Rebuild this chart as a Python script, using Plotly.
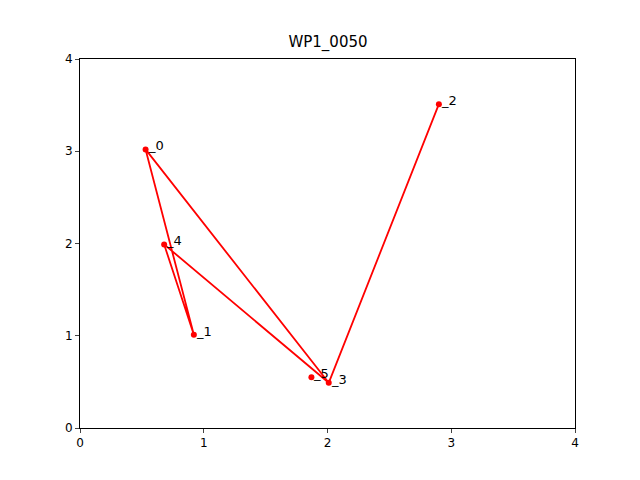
import plotly.graph_objects as go

ids = ["0", "1", "2", "3", "4", "5"]
xs = [0.53, 0.92, 2.90, 2.01, 0.68, 1.87]
ys = [3.02, 1.01, 3.51, 0.49, 1.99, 0.55]
path = [2, 3, 0, 1, 4, 3]

fig = go.Figure()
fig.add_trace(go.Scatter(x=[xs[i] for i in path], y=[ys[i] for i in path], mode="lines",
                         line=dict(color="red", width=1.8), hoverinfo="skip"))
fig.add_trace(go.Scatter(x=xs, y=ys, mode="markers", marker=dict(color="red", size=6)))
for i, lab in enumerate(ids):
    fig.add_annotation(x=xs[i], y=ys[i], text="_" + lab, showarrow=False,
                       xanchor="left", yanchor="bottom", yshift=-6,
                       font=dict(size=13, color="black", family="DejaVu Sans"))

ax = dict(range=[0, 4], tickvals=[0, 1, 2, 3, 4], showgrid=False, zeroline=False,
          showline=True, linecolor="black", mirror=True, ticks="outside", ticklen=4,
          tickfont=dict(size=12, color="black"), automargin=False)
fig.update_layout(width=640, height=480, showlegend=False, plot_bgcolor="white", paper_bgcolor="white",
                  margin=dict(l=72, r=73, t=51, b=60),
                  title=dict(text="WP1_0050", x=0.5, y=0.94, xanchor="center",
                             font=dict(size=15, color="black")),
                  font=dict(family="DejaVu Sans"), xaxis=ax, yaxis=ax)
fig.write_html("out.html")
